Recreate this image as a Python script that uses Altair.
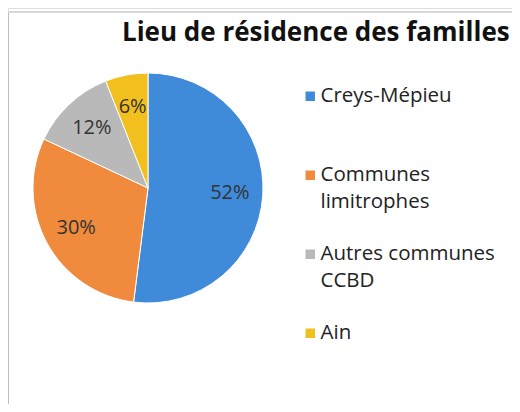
import altair as alt
import pandas as pd

title_text = "Lieu de résidence des familles"
categories = ["Creys-Mépieu", "Communes limitrophes", "Autres communes CCBD", "Ain"]
legend_lines = [["Creys-Mépieu"], ["Communes", "limitrophes"], ["Autres communes", "CCBD"], ["Ain"]]
values = [52, 30, 12, 6]
labels = ["52%", "30%", "12%", "6%"]
colors = ["#3F8BDA", "#F08A3C", "#B9B9B9", "#F2C01E"]

FONT = "Open Sans"
W, H = 504, 396
CX, CY = 140, 180

df = pd.DataFrame({"cat": categories, "val": values, "order": list(range(len(values))), "label": labels})

parts = []
for c, lines in zip(categories, legend_lines):
    arr = "[" + ",".join("'" + l + "'" for l in lines) + "]"
    parts.append(f"datum.label == '{c}' ? {arr} : ")
label_expr = "".join(parts) + "datum.label"

base = alt.Chart(df).encode(
    theta=alt.Theta("val:Q", stack=True),
    order=alt.Order("order:Q"),
)

arcs = base.mark_arc(outerRadius=115, stroke="white", strokeWidth=1).encode(
    x=alt.value(CX), y=alt.value(CY),
    color=alt.Color(
        "cat:N",
        scale=alt.Scale(domain=categories, range=colors),
        sort=categories,
        legend=alt.Legend(
            title=None,
            orient="none",
            legendX=292,
            legendY=78,
            symbolType="square",
            symbolSize=90,
            symbolStrokeWidth=0,
            labelFont=FONT,
            labelFontSize=20.5,
            labelColor="#222222",
            labelExpr=label_expr,
            labelLimit=300,
            labelOffset=0,
            gridAlign="all",
            rowPadding=31,
        ),
    ),
)

texts = base.mark_text(radius=82, font=FONT, fontSize=20, color="#333333").encode(
    x=alt.value(CX), y=alt.value(CY),
    text="label:N",
)

frame_left = alt.Chart(df).mark_rule(color="#BDBDBD", strokeWidth=1).encode(
    x=alt.value(0), y=alt.value(4), y2=alt.value(H)
)
frame_top = alt.Chart(df).mark_rule(color="#D5D5D5", strokeWidth=1).encode(
    x=alt.value(0), x2=alt.value(W), y=alt.value(4)
)

chart = alt.layer(frame_left, frame_top, arcs, texts).properties(
    width=W,
    height=H,
    autosize=alt.AutoSizeParams(type="none"),
    padding={"left": 0, "top": 0, "right": 0, "bottom": 0},
    title=alt.TitleParams(
        title_text,
        anchor="start",
        frame="group",
        orient="top",
        offset=-59,
        dx=114,
        font=FONT,
        fontSize=26,
        fontWeight="bold",
        color="#111111",
        baseline="alphabetic",
    ),
).configure_view(stroke=None).configure(style={"guide-label": {"lineHeight": 27}})

chart.save("out.html", embed_options={"renderer": "svg", "actions": False})
